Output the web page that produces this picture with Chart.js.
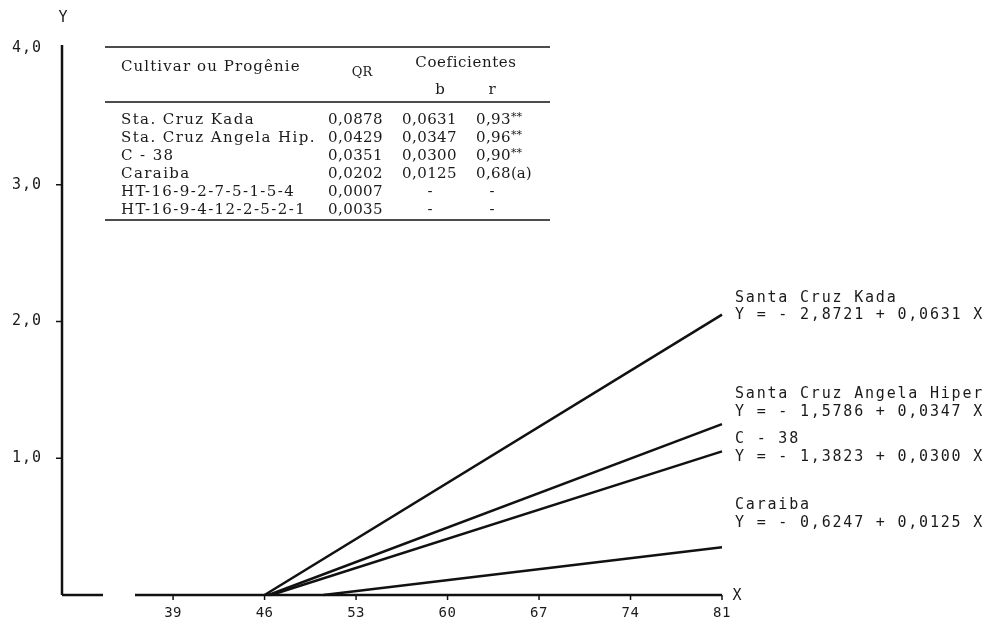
<!DOCTYPE html>
<html>
<head>
<meta charset="utf-8">
<script src="https://cdn.jsdelivr.net/npm/chart.js@4/dist/chart.umd.min.js"></script>
<style>
    html, body { margin: 0; padding: 0; background: #fff; }
</style>
</head>
<body>
<canvas id="grafico" width="991" height="624"></canvas>
<script>
// #region Dados
const xTicks = [39, 46, 53, 60, 67, 74, 81];
const yTicks = [1, 2, 3, 4];
const yTickLabels = ["1,0", "2,0", "3,0", "4,0"];

const cultivares = ["Santa Cruz Kada", "Santa Cruz Angela Hiper", "C - 38", "Caraiba"];
const equacoes = [
    "Y = - 2,8721 + 0,0631 X",
    "Y = - 1,5786 + 0,0347 X",
    "Y = - 1,3823 + 0,0300 X",
    "Y = - 0,6247 + 0,0125 X"
];

const kadaX = [46, 81];
const kadaY = [0, 2.05];
const angelaX = [46.3, 81];
const angelaY = [0, 1.25];
const c38X = [46.5, 81];
const c38Y = [0, 1.05];
const caraibaX = [50.5, 81];
const caraibaY = [0, 0.35];

// #region Tabela
const tabNomes = [
    "Sta. Cruz Kada",
    "Sta. Cruz Angela Hip.",
    "C - 38",
    "Caraiba",
    "HT-16-9-2-7-5-1-5-4",
    "HT-16-9-4-12-2-5-2-1"
];
const tabQR = ["0,0878", "0,0429", "0,0351", "0,0202", "0,0007", "0,0035"];
const tabB = ["0,0631", "0,0347", "0,0300", "0,0125", "-", "-"];
const tabR = ["0,93", "0,96", "0,90", "0,68", "-", "-"];
const tabRNota = ["**", "**", "**", "(a)", "", ""];

function pontos(xs, ys) {
    return xs.map(function (x, i) { return { x: x, y: ys[i] }; });
}

function serie(label, xs, ys) {
    return {
        label: label,
        data: pontos(xs, ys),
        showLine: true,
        borderColor: "#111",
        borderWidth: 2.5,
        pointRadius: 0,
        clip: false
    };
}

var mono = "'DejaVu Sans Mono', monospace";
var serif = "'DejaVu Serif', serif";

function texto(ctx, t, x, y, font, align, spacing) {
    ctx.font = font;
    ctx.letterSpacing = (spacing || 0) + "px";
    ctx.textAlign = align || "left";
    ctx.textBaseline = "middle";
    ctx.fillText(t, x, y);
    ctx.letterSpacing = "0px";
}

var eixos = {
    id: "eixos",
    afterDraw: function (chart) {
        var ctx = chart.ctx;
        var sx = chart.scales.x, sy = chart.scales.y;
        var x0 = sx.left, x1 = sx.right, y0 = sy.bottom, yTop = sy.top;
        ctx.save();
        ctx.strokeStyle = "#111";
        ctx.fillStyle = "#1a1a1a";
        ctx.lineWidth = 2.5;

        // eixo Y
        ctx.beginPath();
        ctx.moveTo(x0, yTop - 3);
        ctx.lineTo(x0, y0);
        ctx.stroke();

        // eixo X com quebra
        ctx.beginPath();
        ctx.moveTo(x0, y0);
        ctx.lineTo(x0 + 41, y0);
        ctx.moveTo(x0 + 73, y0);
        ctx.lineTo(x1, y0);
        ctx.stroke();

        ctx.lineWidth = 1.5;
        xTicks.forEach(function (v) {
            var px = sx.getPixelForValue(v);
            ctx.beginPath();
            ctx.moveTo(px, y0);
            ctx.lineTo(px, y0 + 5);
            ctx.stroke();
            texto(ctx, String(v), px, y0 + 18, "14px " + mono, "center", 0.5);
        });

        yTicks.forEach(function (v, i) {
            var py = sy.getPixelForValue(v);
            if (v < 4) {
                ctx.beginPath();
                ctx.moveTo(x0 - 6, py);
                ctx.lineTo(x0, py);
                ctx.stroke();
            }
            texto(ctx, yTickLabels[i], x0 - 20, py, "15px " + mono, "right", 1);
        });

        texto(ctx, "Y", x0 + 1, 18, "15px " + mono, "center", 0);
        texto(ctx, "X", x1 + 15, y0 + 1, "15px " + mono, "center", 0);

        // rótulos das retas
        var ly = [[298, 315], [394, 412], [439, 457], [505, 523]];
        cultivares.forEach(function (c, i) {
            texto(ctx, c, x1 + 13, ly[i][0], "15px " + mono, "left", 1.8);
            texto(ctx, equacoes[i], x1 + 13, ly[i][1], "15px " + mono, "left", 1.8);
        });

        // tabela
        ctx.lineWidth = 1.5;
        [47, 102, 220].forEach(function (y) {
            ctx.beginPath();
            ctx.moveTo(105, y);
            ctx.lineTo(550, y);
            ctx.stroke();
        });
        var ft = "15px " + serif;
        texto(ctx, "Cultivar ou Progênie", 121, 67, ft, "left", 1.1);
        texto(ctx, "QR", 362, 73, "13px " + serif, "center", 0);
        texto(ctx, "Coeficientes", 466, 63, ft, "center", 0.6);
        texto(ctx, "b", 440, 90, ft, "center", 0);
        texto(ctx, "r", 492, 90, ft, "center", 0);
        tabNomes.forEach(function (n, i) {
            var y = 120 + i * 18;
            texto(ctx, n, 121, y, ft, "left", 1.4);
            texto(ctx, tabQR[i], 383, y, ft, "right", 0.4);
            if (tabB[i] === "-") {
                texto(ctx, "-", 430, y, ft, "center", 0);
                texto(ctx, "-", 492, y, ft, "center", 0);
            } else {
                texto(ctx, tabB[i], 457, y, ft, "right", 0.4);
                texto(ctx, tabR[i], 476, y, ft, "left", 0.4);
                ctx.font = ft;
                ctx.letterSpacing = "0.4px";
                var w = ctx.measureText(tabR[i]).width;
                ctx.letterSpacing = "0px";
                if (tabRNota[i] === "**") {
                    texto(ctx, "**", 476 + w, y - 3, "11px " + serif, "left", 0);
                } else {
                    texto(ctx, tabRNota[i], 476 + w, y, ft, "left", 0);
                }
            }
        });
        ctx.restore();
    }
};

var grafico = new Chart(document.getElementById("grafico").getContext("2d"), {
    type: "scatter",
    data: {
        datasets: [
            serie(cultivares[0], kadaX, kadaY),
            serie(cultivares[1], angelaX, angelaY),
            serie(cultivares[2], c38X, c38Y),
            serie(cultivares[3], caraibaX, caraibaY)
        ]
    },
    options: {
        responsive: false,
        animation: false,
        layout: { padding: { left: 62, right: 269, top: 48, bottom: 29 } },
        scales: {
            x: { type: "linear", min: 30.5, max: 81, display: false },
            y: { min: 0, max: 4, display: false }
        },
        plugins: {
            legend: { display: false },
            tooltip: { enabled: false }
        }
    },
    plugins: [eixos]
});
</script>
</body>
</html>
